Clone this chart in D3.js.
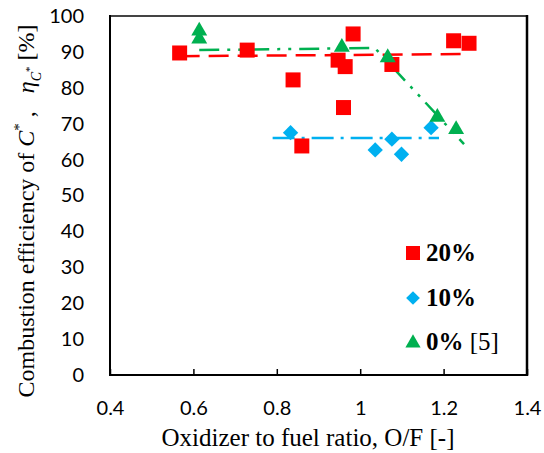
<!DOCTYPE html>
<html>
<head>
<meta charset="utf-8">
<script src="https://cdn.jsdelivr.net/npm/d3@7"></script>
<style>
  html, body { margin: 0; padding: 0; background: #fff; }
  svg { display: block; }
</style>
</head>
<body>
<svg id="chart" width="544" height="453"></svg>
<script>
// O/F ratio vs. combustion efficiency, three oxidizer concentrations
const series20X = [0.567, 0.729, 0.839, 0.860, 0.947, 0.960, 0.964, 0.983, 1.076, 1.224, 1.261];
const series20Y = [89.7, 90.5, 82.2, 63.8, 87.7, 74.5, 85.9, 95.0, 86.5, 93.1, 92.4];

const series10X = [0.833, 1.036, 1.076, 1.099, 1.170];
const series10Y = [67.5, 62.7, 65.7, 61.5, 68.9];

const series0X = [0.614, 0.614, 0.956, 1.066, 1.185, 1.230];
const series0Y = [96.1, 93.9, 91.6, 88.7, 72.1, 68.7];

// trend lines
const trend20X = [0.567, 1.261];
const trend20Y = [88.8, 89.4];
const trend10X = [0.790, 1.189];
const trend10Y = [66.0, 66.0];
const trend0X = [0.614, 1.035, 1.249];
const trend0Y = [90.5, 91.1, 64.3];

const xTicks = [0.4, 0.6, 0.8, 1.0, 1.2, 1.4];
const xTickLabels = ["0.4", "0.6", "0.8", "1", "1.2", "1.4"];
const yTicks = [0, 10, 20, 30, 40, 50, 60, 70, 80, 90, 100];
const yTickLabels = ["0", "10", "20", "30", "40", "50", "60", "70", "80", "90", "100"];

const legendLabels = ["20%", "10%", "0%"];
const legendRefs = ["", "", " [5]"];

const RED = "#FF0000", BLUE = "#00B0F0", GREEN = "#00B050";

const svg = d3.select("#chart");
const plotL = 110, plotR = 527, plotT = 16, plotB = 375;

const x = d3.scaleLinear().domain([0.4, 1.4]).range([plotL, plotR]);
const y = d3.scaleLinear().domain([0, 100]).range([plotB, plotT]);

const tickFont = "Lato, 'Open Sans', sans-serif";
const serif = "'Liberation Serif', 'DejaVu Serif', serif";

// axes
const xAxis = svg.append("g")
  .attr("transform", `translate(0,${plotB})`)
  .call(d3.axisBottom(x).tickValues(xTicks)
    .tickFormat((d, i) => xTickLabels[i])
    .tickSizeInner(-6).tickSizeOuter(0).tickPadding(26));
xAxis.select(".domain").remove();
xAxis.selectAll(".tick line").attr("stroke", "#000").attr("stroke-width", 1.5);
xAxis.selectAll("text").attr("font-family", tickFont).attr("font-size", 20).attr("fill", "#000");

const yAxis = svg.append("g")
  .attr("transform", `translate(${plotL},0)`)
  .call(d3.axisLeft(y).tickValues(yTicks)
    .tickFormat((d, i) => yTickLabels[i])
    .tickSize(0).tickPadding(26));
yAxis.select(".domain").remove();
yAxis.selectAll("text").attr("font-family", tickFont).attr("font-size", 20).attr("fill", "#000");

// frame
svg.append("line").attr("x1", plotL).attr("x2", plotR).attr("y1", plotT).attr("y2", plotT)
  .attr("stroke", "#444").attr("stroke-width", 2);
svg.append("line").attr("x1", plotL).attr("x2", plotR).attr("y1", plotB).attr("y2", plotB)
  .attr("stroke", "#000").attr("stroke-width", 2);
svg.append("line").attr("x1", plotL).attr("x2", plotL).attr("y1", plotT - 1).attr("y2", plotB + 1)
  .attr("stroke", "#000").attr("stroke-width", 2);
svg.append("line").attr("x1", plotR).attr("x2", plotR).attr("y1", plotT - 1).attr("y2", plotB + 1)
  .attr("stroke", "#000").attr("stroke-width", 2.5);

// trend lines
const line = d3.line().x(d => x(d[0])).y(d => y(d[1]));
function trend(xs, ys, color, dash) {
  svg.append("path")
    .attr("d", line(xs.map((v, i) => [v, ys[i]])))
    .attr("fill", "none").attr("stroke", color).attr("stroke-width", 2.5)
    .attr("stroke-dasharray", dash);
}
trend(trend20X, trend20Y, RED, "20 9");
trend(trend10X, trend10Y, BLUE, "22 7 3 7");
trend(trend0X, trend0Y, GREEN, "20 8 3 8 3 8");

// markers
const sq = d3.symbol().type(d3.symbolSquare).size(225);
const di = d3.symbol().type(d3.symbolDiamond2).size(150);
const tri = d3.symbol().type(d3.symbolTriangle).size(110);

function markers(xs, ys, sym, color, dy) {
  svg.append("g").selectAll("path")
    .data(xs.map((v, i) => [v, ys[i]]))
    .join("path")
    .attr("transform", d => `translate(${x(d[0])},${y(d[1]) + dy})`)
    .attr("d", sym).attr("fill", color);
}
markers(series20X, series20Y, sq, RED, 0);
markers(series10X, series10Y, di, BLUE, 0);
markers(series0X, series0Y, tri, GREEN, 1);

// legend
const legend = svg.append("g");
const legendSyms = [d3.symbol().type(d3.symbolSquare).size(196),
                    d3.symbol().type(d3.symbolDiamond2).size(120),
                    d3.symbol().type(d3.symbolTriangle).size(100)];
const legendColors = [RED, BLUE, GREEN];
const legendRowY = [253, 298, 342];
legendLabels.forEach((lab, i) => {
  legend.append("path")
    .attr("transform", `translate(413,${legendRowY[i] + (i === 2 ? 1 : 0)})`)
    .attr("d", legendSyms[i]).attr("fill", legendColors[i]);
  const t = legend.append("text")
    .attr("x", 426).attr("y", legendRowY[i] + 8)
    .attr("font-family", serif).attr("font-size", 25).attr("fill", "#000");
  t.append("tspan").attr("font-weight", "bold").text(lab);
  if (legendRefs[i]) t.append("tspan").text(legendRefs[i]);
});

// axis titles
svg.append("text")
  .attr("x", 308).attr("y", 446)
  .attr("text-anchor", "middle")
  .attr("font-family", serif).attr("font-size", 25).attr("fill", "#000")
  .text("Oxidizer to fuel ratio, O/F [-]");

const yt = svg.append("text")
  .attr("transform", `translate(34,211) rotate(-90)`)
  .attr("text-anchor", "middle")
  .attr("font-family", serif).attr("font-size", 24).attr("fill", "#000");
yt.append("tspan").text("Combustion efficiency of ");
yt.append("tspan").attr("font-style", "italic").text("C");
yt.append("tspan").attr("font-size", 15).attr("dy", -10).text("*");
yt.append("tspan").attr("dy", 10).text("\u00A0,\u00A0\u00A0\u00A0");
yt.append("tspan").attr("font-style", "italic").text("η");
yt.append("tspan").attr("font-style", "italic").attr("font-size", 14).attr("dy", 7).text("C");
yt.append("tspan").attr("font-size", 11).attr("dy", -8).text("*");
yt.append("tspan").attr("dy", 1).text("\u00A0[%]");
</script>
</body>
</html>
